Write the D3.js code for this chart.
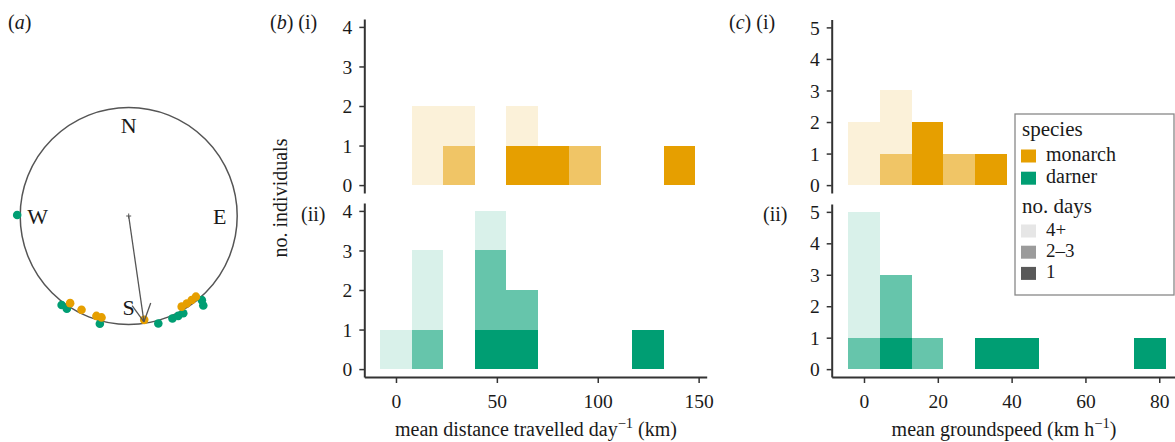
<!DOCTYPE html>
<html>
<head>
<meta charset="utf-8">
<script src="https://cdn.jsdelivr.net/npm/d3@7"></script>
<style>
  body { margin: 0; background: #fff; }
  text { font-family: "Liberation Serif", "Times New Roman", serif; fill: #1a1a1a; }
</style>
</head>
<body>
<svg id="fig" width="1175" height="442"></svg>
<script>
// ---- data ----
// (a) headings in degrees clockwise from north
const monarchHeadings = [213.9, 206.7, 197.9, 195, 171.5, 149.7, 146.4, 143.1, 140.2];
const darnerHeadings = [270.5, 217, 213.7, 195, 164.6, 156.9, 153.6, 150.7, 139, 140.2];
const meanHeading = 171.8;
const meanLength = 0.985;
const compass = ["N", "E", "S", "W"];

// (b) mean distance travelled per day, bin lower edges (km)
const distEdges = [-7.8, 7.8, 23.4, 39, 54.6, 70.2, 85.8, 101.4, 117, 132.6];
const distBinWidth = 15.6;
const distTicks = [0, 50, 100, 150];
// counts per bin, by number of days tracked
const monarchDist1 = [0, 0, 0, 0, 1, 1, 0, 0, 0, 1];
const monarchDist23 = [0, 0, 1, 0, 0, 0, 1, 0, 0, 0];
const monarchDist4 = [0, 2, 1, 0, 1, 0, 0, 0, 0, 0];
const darnerDist1 = [0, 0, 0, 1, 1, 0, 0, 0, 1, 0];
const darnerDist23 = [0, 1, 0, 2, 1, 0, 0, 0, 0, 0];
const darnerDist4 = [1, 2, 0, 1, 0, 0, 0, 0, 0, 0];

// (c) mean groundspeed, bin lower edges (km/h)
const speedEdges = [-4.3, 4.3, 12.9, 21.5, 30.1, 38.7, 47.3, 55.9, 64.5, 73.1];
const speedBinWidth = 8.6;
const speedTicks = [0, 20, 40, 60, 80];
const monarchSpeed1 = [0, 0, 2, 0, 1, 0, 0, 0, 0, 0];
const monarchSpeed23 = [0, 1, 0, 1, 0, 0, 0, 0, 0, 0];
const monarchSpeed4 = [2, 2, 0, 0, 0, 0, 0, 0, 0, 0];
const darnerSpeed1 = [0, 1, 0, 0, 1, 1, 0, 0, 0, 1];
const darnerSpeed23 = [1, 2, 1, 0, 0, 0, 0, 0, 0, 0];
const darnerSpeed4 = [4, 0, 0, 0, 0, 0, 0, 0, 0, 0];

const species = ["monarch", "darner"];
const dayGroups = ["1", "2–3", "4+"];
const legendDays = ["4+", "2–3", "1"];

// ---- styles ----
const colors = {monarch: "#E69F00", darner: "#009E73"};
const alphas = {"1": 1, "2–3": 0.6, "4+": 0.15};
const axisCol = "#333";
const tickFont = 19.5;

const svg = d3.select("#fig");

// ---- (a) circular plot ----
const cx = 128.7, cy = 216, R = 108.5;
const ang = d3.scaleLinear().domain([0, 360]).range([0, 2 * Math.PI]);
const gA = svg.append("g").attr("transform", `translate(${cx},${cy})`);

gA.append("circle").attr("r", R)
  .attr("fill", "none").attr("stroke", "#555").attr("stroke-width", 1.5);

gA.selectAll("text.cmp")
  .data(compass)
  .join("text")
    .attr("class", "cmp")
    .attr("x", (d, i) => d3.pointRadial(ang(i * 90), 91)[0])
    .attr("y", (d, i) => d3.pointRadial(ang(i * 90), 91)[1])
    .attr("dy", "0.36em")
    .attr("text-anchor", "middle")
    .attr("font-size", 22)
    .text(d => d);

// stack points that fall on (nearly) the same heading
function stackPoints(list, base, step) {
  const placed = [];
  list.forEach(h => {
    const lvl = placed.filter(p => Math.abs(p.h - h) < 1.5).length;
    placed.push({h, r: base + lvl * step});
  });
  return placed;
}

gA.selectAll("circle.darner")
  .data(stackPoints(darnerHeadings, R + 3, 5))
  .join("circle")
    .attr("class", "darner")
    .attr("cx", d => d3.pointRadial(ang(d.h), d.r)[0])
    .attr("cy", d => d3.pointRadial(ang(d.h), d.r)[1])
    .attr("r", 4.3)
    .attr("fill", colors.darner);

gA.selectAll("circle.monarch")
  .data(stackPoints(monarchHeadings, R - 3.5, -5))
  .join("circle")
    .attr("class", "monarch")
    .attr("cx", d => d3.pointRadial(ang(d.h), d.r)[0])
    .attr("cy", d => d3.pointRadial(ang(d.h), d.r)[1])
    .attr("r", 4.3)
    .attr("fill", colors.monarch);

// mean vector arrow
const tip = d3.pointRadial(ang(meanHeading), R * meanLength);
gA.append("line")
  .attr("x1", 0).attr("y1", 0).attr("x2", tip[0]).attr("y2", tip[1])
  .attr("stroke", "#555").attr("stroke-width", 1.3);
[-28, 28].forEach(off => {
  const p = d3.pointRadial(ang(meanHeading + 180 + off), 20);
  gA.append("line")
    .attr("x1", tip[0]).attr("y1", tip[1])
    .attr("x2", tip[0] + p[0]).attr("y2", tip[1] + p[1])
    .attr("stroke", "#555").attr("stroke-width", 1.3);
});
gA.append("path").attr("d", "M-2.5,0H2.5M0,-2.5V2.5")
  .attr("stroke", "#555").attr("stroke-width", 1);

// ---- histograms ----
function styleAxis(g) {
  g.select(".domain").attr("stroke", axisCol).attr("stroke-width", 2);
  g.selectAll(".tick line").attr("stroke", axisCol).attr("stroke-width", 1.5);
  g.selectAll(".tick text")
    .attr("fill", "#1a1a1a")
    .attr("font-size", tickFont)
    .attr("font-family", "Liberation Serif, Times New Roman, serif");
}

function drawHist(x, y, edges, binW, byDay, color, xTicks) {
  const g = svg.append("g");
  // stack: 1 day at bottom, then 2–3, then 4+
  const rows = [];
  edges.forEach((e, i) => {
    let base = 0;
    dayGroups.forEach(k => {
      const n = byDay[k][i];
      if (n > 0) rows.push({x0: e, x1: e + binW, y0: base, y1: base + n, k});
      base += n;
    });
  });
  g.selectAll("rect")
    .data(rows)
    .join("rect")
      .attr("x", d => x(d.x0))
      .attr("width", d => x(d.x1) - x(d.x0))
      .attr("y", d => y(d.y1))
      .attr("height", d => y(d.y0) - y(d.y1))
      .attr("fill", color)
      .attr("fill-opacity", d => alphas[d.k])
      .attr("shape-rendering", "crispEdges");

  const yMax = Math.round(y.domain()[1]);
  svg.append("g")
    .attr("transform", `translate(${x.range()[0]},0)`)
    .call(d3.axisLeft(y).tickValues(d3.range(0, yMax + 1)).tickFormat(d3.format("d"))
      .tickSize(5).tickSizeOuter(0).tickPadding(7))
    .call(styleAxis)
    .call(g => g.selectAll(".tick text").attr("dy", "0.34em"));

  if (xTicks) {
    svg.append("g")
      .attr("transform", `translate(0,${y.range()[0]})`)
      .call(d3.axisBottom(x).tickValues(xTicks).tickFormat(d3.format("d"))
        .tickSize(6).tickSizeOuter(0).tickPadding(11))
      .call(styleAxis);
  }
}

const xDist = d3.scaleLinear().domain([-15.7, 154]).range([364.3, 706.7]);
const xSpeed = d3.scaleLinear().domain([-8.75, 86]).range([831.7, 1181.4]);
const yDistTop = d3.scaleLinear().domain([-0.2, 4.2]).range([193, 19]);
const yDistBot = d3.scaleLinear().domain([-0.2, 4.2]).range([377, 203]);
const ySpeedTop = d3.scaleLinear().domain([-0.25, 5.25]).range([193, 19.5]);
const ySpeedBot = d3.scaleLinear().domain([-0.25, 5.25]).range([377, 204]);

drawHist(xDist, yDistTop, distEdges, distBinWidth,
  {"1": monarchDist1, "2–3": monarchDist23, "4+": monarchDist4}, colors.monarch, null);
drawHist(xDist, yDistBot, distEdges, distBinWidth,
  {"1": darnerDist1, "2–3": darnerDist23, "4+": darnerDist4}, colors.darner, distTicks);
drawHist(xSpeed, ySpeedTop, speedEdges, speedBinWidth,
  {"1": monarchSpeed1, "2–3": monarchSpeed23, "4+": monarchSpeed4}, colors.monarch, null);
drawHist(xSpeed, ySpeedBot, speedEdges, speedBinWidth,
  {"1": darnerSpeed1, "2–3": darnerSpeed23, "4+": darnerSpeed4}, colors.darner, speedTicks);

// ---- axis titles ----
svg.append("text")
  .attr("transform", "translate(287,198) rotate(-90)")
  .attr("text-anchor", "middle").attr("font-size", 20)
  .text("no. individuals");

const t1 = svg.append("text").attr("x", 536).attr("y", 436)
  .attr("text-anchor", "middle").attr("font-size", 20);
t1.append("tspan").text("mean distance travelled day");
t1.append("tspan").attr("dy", -8).attr("font-size", 14.5).text("−1");
t1.append("tspan").attr("dy", 8).text(" (km)");

const t2 = svg.append("text").attr("x", 1004).attr("y", 436)
  .attr("text-anchor", "middle").attr("font-size", 20);
t2.append("tspan").text("mean groundspeed (km h");
t2.append("tspan").attr("dy", -8).attr("font-size", 14.5).text("−1");
t2.append("tspan").attr("dy", 8).text(")");

// ---- panel labels ----
function panelLabel(x, y, letter, sub) {
  const t = svg.append("text").attr("x", x).attr("y", y).attr("font-size", 20);
  if (letter) {
    t.append("tspan").text("(");
    t.append("tspan").attr("font-style", "italic").text(letter);
    t.append("tspan").text(")" + (sub ? " " : ""));
  }
  if (sub) t.append("tspan").text(sub);
}
panelLabel(8, 29, "a", null);
panelLabel(270, 29, "b", "(i)");
panelLabel(301, 221, null, "(ii)");
panelLabel(729, 29, "c", "(i)");
panelLabel(763, 221, null, "(ii)");

// ---- legend ----
const lg = svg.append("g");
lg.append("rect").attr("x", 1015).attr("y", 114).attr("width", 159).attr("height", 181)
  .attr("fill", "#fff").attr("stroke", "#888").attr("stroke-width", 1.3);
lg.append("text").attr("x", 1022).attr("y", 136).attr("font-size", 21).text("species");
lg.selectAll("rect.sp")
  .data(species)
  .join("rect")
    .attr("class", "sp")
    .attr("x", 1021).attr("y", (d, i) => 149.5 + i * 22.2)
    .attr("width", 15).attr("height", 13)
    .attr("fill", d => colors[d]);
lg.selectAll("text.sp")
  .data(species)
  .join("text")
    .attr("class", "sp")
    .attr("x", 1046).attr("y", (d, i) => 161 + i * 22.2)
    .attr("font-size", 20)
    .text(d => d);
lg.append("text").attr("x", 1022).attr("y", 213).attr("font-size", 21).text("no. days");
lg.selectAll("rect.dy")
  .data(legendDays)
  .join("rect")
    .attr("class", "dy")
    .attr("x", 1021).attr("y", (d, i) => 224.5 + i * 21.2)
    .attr("width", 15).attr("height", 13)
    .attr("fill", "#595959")
    .attr("fill-opacity", d => alphas[d]);
lg.selectAll("text.dy")
  .data(legendDays)
  .join("text")
    .attr("class", "dy")
    .attr("x", 1046).attr("y", (d, i) => 236 + i * 21.2)
    .attr("font-size", 19)
    .text(d => d);
</script>
</body>
</html>
